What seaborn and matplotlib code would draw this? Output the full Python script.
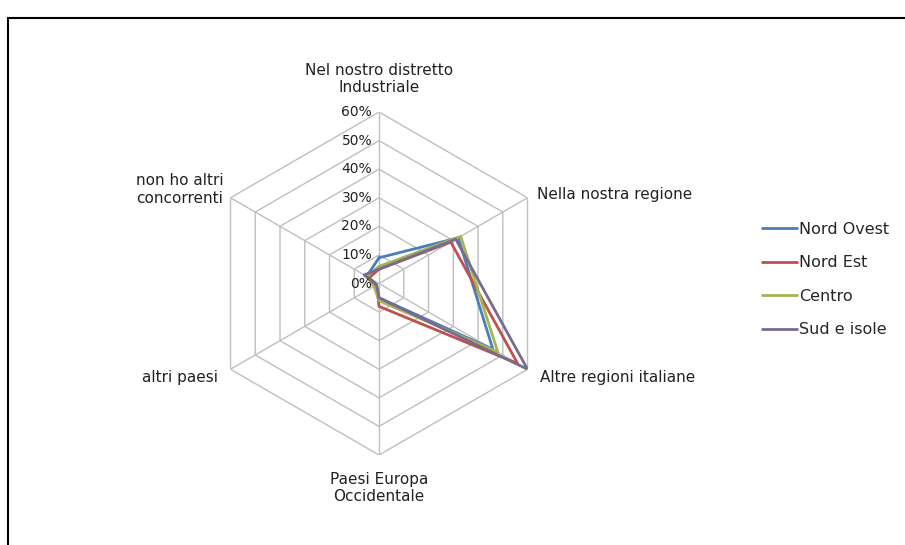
import numpy as np
import pandas as pd
import matplotlib
matplotlib.use('Agg')
import matplotlib.pyplot as plt
import seaborn as sns
from matplotlib.lines import Line2D
from matplotlib.patches import Rectangle

# Radar chart: dove si trovano i concorrenti, per area geografica
categories = ['Nel nostro distretto\nIndustriale', 'Nella nostra regione',
              'Altre regioni italiane', 'Paesi Europa\nOccidentale',
              'altri paesi', 'non ho altri\nconcorrenti']
series_names = ['Nord Ovest', 'Nord Est', 'Centro', 'Sud e isole']
nord_ovest = [9, 32, 46, 5, 1, 5]
nord_est = [5, 29, 56, 8, 1, 4]
centro = [6, 33, 48, 6, 2, 5]
sud_isole = [5, 31, 60, 5, 1, 6]
ticks = [0, 10, 20, 30, 40, 50, 60]
tick_labels = ['0%', '10%', '20%', '30%', '40%', '50%', '60%']

colors = ['#4A7EBB', '#C0504D', '#A5B552', '#7A6A8E']

sns.set_style('white')
plt.rcParams['font.family'] = ['DejaVu Sans']

n = len(categories)
angles = np.arange(n) * 2 * np.pi / n
closed = np.append(angles, angles[0])

# long-form table for seaborn
rows = []
for name, vals in zip(series_names, [nord_ovest, nord_est, centro, sud_isole]):
    v = list(vals) + [vals[0]]
    for i, (a, r) in enumerate(zip(closed, v)):
        rows.append({'serie': name, 'order': i, 'theta': a, 'val': r})
df = pd.DataFrame(rows)

fig = plt.figure(figsize=(9.05, 5.45), dpi=100)
ax = fig.add_axes([0.2293, 0.1651, 0.379, 0.6294], projection='polar')
ax.set_theta_zero_location('N')
ax.set_theta_direction(-1)
ax.set_ylim(0, 60)
ax.grid(False)
ax.spines['polar'].set_visible(False)
ax.set_xticks([])
ax.set_yticks([])
ax.patch.set_alpha(0)

# hexagonal gridlines and spokes
for t in ticks[1:]:
    ax.plot(closed, [t] * len(closed), color='#BFBFBF', lw=1, zorder=1)
for a in angles:
    ax.plot([a, a], [0, 60], color='#BFBFBF', lw=1, zorder=1)

sns.lineplot(data=df, x='theta', y='val', hue='serie', palette=colors,
             hue_order=series_names, sort=False, estimator=None, units='serie',
             lw=2, ax=ax, legend=False, zorder=3)
ax.set_xlabel('')
ax.set_ylabel('')

for t, lab in zip(ticks, tick_labels):
    ax.annotate(lab, xy=(0, t), xytext=(-5, 0), textcoords='offset points',
                ha='right', va='center', fontsize=10, color='#222222')

offsets = [((0, 12), 'center', 'bottom'), ((7, 2), 'left', 'center'),
           ((9, -6), 'left', 'center'), ((0, -12), 'center', 'top'),
           ((-9, -6), 'right', 'center'), ((-5, 6), 'right', 'center')]
for a, lab, (off, ha, va) in zip(angles, categories, offsets):
    ax.annotate(lab, xy=(a, 60), xytext=off, textcoords='offset points',
                ha=ha, va=va, multialignment='center', fontsize=11,
                color='#222222', annotation_clip=False)

handles = [Line2D([], [], color=c, lw=2) for c in colors]
fig.legend(handles, series_names, loc='center left',
           bbox_to_anchor=(0.826, 0.487), frameon=False, handlelength=2.2,
           handletextpad=0.1, labelspacing=1.15, fontsize=11.5)

fig.patches.append(Rectangle((8 / 905, -0.1), 1.2, 1.1 - 18 / 545,
                             transform=fig.transFigure, fill=False,
                             edgecolor='black', lw=1.5))

fig.savefig('out.png', dpi=100)
